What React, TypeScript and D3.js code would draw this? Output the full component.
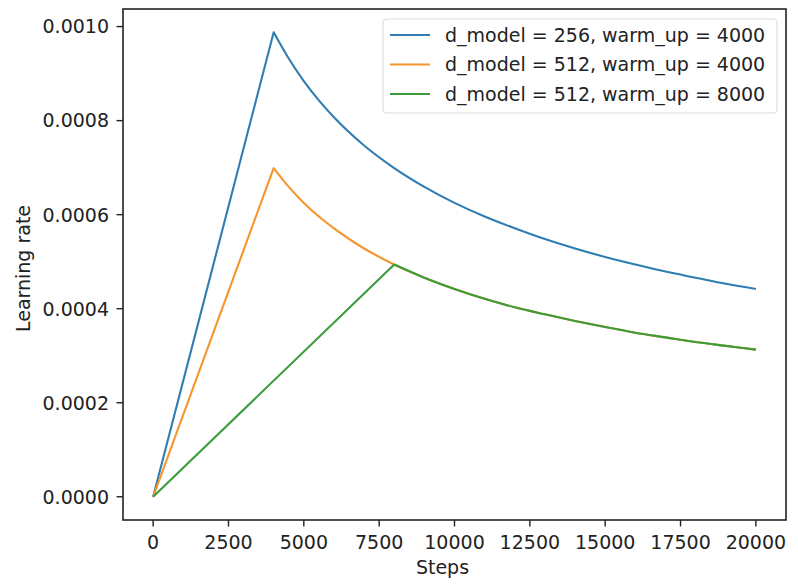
import * as d3 from 'd3';
import React from 'react';

// steps sampled along the curves (x values)
const steps = [0, 4000, 4500, 5000, 5500, 6000, 7000, 8000, 9000, 10000, 11000, 12000, 13000, 14000, 15000, 16000, 17000, 18000, 19000, 20000];
const stepsLong = [0, 8000, 9000, 10000, 11000, 12000, 13000, 14000, 15000, 16000, 17000, 18000, 19000, 20000];

// learning rate values
const lr256w4000 = [0, 0.000988, 0.000932, 0.000884, 0.000843, 0.000807, 0.000747, 0.000699, 0.000659, 0.000625, 0.000596, 0.000571, 0.000548, 0.000528, 0.00051, 0.000494, 0.000479, 0.000466, 0.000453, 0.000442];
const lr512w4000 = [0, 0.000699, 0.000659, 0.000625, 0.000596, 0.000571, 0.000528, 0.000494, 0.000466, 0.000442, 0.000421, 0.000403, 0.000388, 0.000374, 0.000361, 0.000349, 0.000339, 0.000329, 0.000321, 0.000313];
const lr512w8000 = [0, 0.000494, 0.000466, 0.000442, 0.000421, 0.000403, 0.000388, 0.000374, 0.000361, 0.000349, 0.000339, 0.000329, 0.000321, 0.000313];

const seriesNames = ['d_model = 256, warm_up = 4000', 'd_model = 512, warm_up = 4000', 'd_model = 512, warm_up = 8000'];
const colors = ['#2f7db3', '#f5952e', '#3a9c3a'];

const xTicks = [0, 2500, 5000, 7500, 10000, 12500, 15000, 17500, 20000];
const yTicks = [0, 0.0002, 0.0004, 0.0006, 0.0008, 0.001];

const W = 798, H = 588;
const left = 123, right = 786, top = 9, bottom = 520;
const font = 'DejaVu Sans, sans-serif';
const fs = 19;

export default function App() {
  const x = d3.scaleLinear().domain([-1000, 21000]).range([left, right]);
  const y = d3.scaleLinear().domain([-0.0000494, 0.0010374]).range([bottom, top]);

  // warm-up ramp is straight, the decay after the peak is smooth
  const rise = d3.line<[number, number]>().x(d => x(d[0])).y(d => y(d[1]));
  const decay = d3.line<[number, number]>().x(d => x(d[0])).y(d => y(d[1])).curve(d3.curveMonotoneX);
  const series = [
    steps.map((s, i) => [s, lr256w4000[i]] as [number, number]),
    steps.map((s, i) => [s, lr512w4000[i]] as [number, number]),
    stepsLong.map((s, i) => [s, lr512w8000[i]] as [number, number]),
  ];
  const pathFor = (s: [number, number][]) => (rise(s.slice(0, 2)) || '') + (decay(s.slice(1)) || '').replace(/^M/, 'L');

  return (
    <svg width={W} height={H} style={{ position: 'absolute', left: 0, top: 0, background: '#fff' }} fontFamily={font}>
      <rect x={0} y={0} width={W} height={H} fill="#fff" />
      {series.map((s, i) => (
        <path key={i} d={pathFor(s)} fill="none" stroke={colors[i]} strokeWidth={2.1} strokeLinejoin="round" />
      ))}
      <rect x={left} y={top} width={right - left} height={bottom - top} fill="none" stroke="#222" strokeWidth={1.6} />

      {xTicks.map(t => (
        <g key={t} transform={`translate(${x(t)},${bottom})`}>
          <line y2={6.5} stroke="#222" strokeWidth={1.4} />
          <text y={29} textAnchor="middle" fontSize={fs} fill="#222">{t}</text>
        </g>
      ))}
      {yTicks.map(t => (
        <g key={t} transform={`translate(${left},${y(t)})`}>
          <line x2={-6.5} stroke="#222" strokeWidth={1.4} />
          <text x={-14} dy="0.36em" textAnchor="end" fontSize={fs} fill="#222">{t.toFixed(4)}</text>
        </g>
      ))}

      <text x={(left + right) / 2 - 12} y={574} textAnchor="middle" fontSize={fs} fill="#222">Steps</text>
      <text transform={`translate(30,${(top + bottom) / 2 + 4}) rotate(-90)`} textAnchor="middle" fontSize={fs} fill="#222">Learning rate</text>

      <g transform="translate(383,19)">
        <rect width={394} height={94} rx={4} fill="#fff" fillOpacity={0.8} stroke="#ddd" strokeWidth={1.2} />
        {seriesNames.map((n, i) => (
          <g key={n} transform={`translate(0,${16 + i * 29.5})`}>
            <line x1={7} x2={47} stroke={colors[i]} strokeWidth={2.1} />
            <text x={62} dy="0.36em" fontSize={fs} fill="#222">{n}</text>
          </g>
        ))}
      </g>
    </svg>
  );
}
